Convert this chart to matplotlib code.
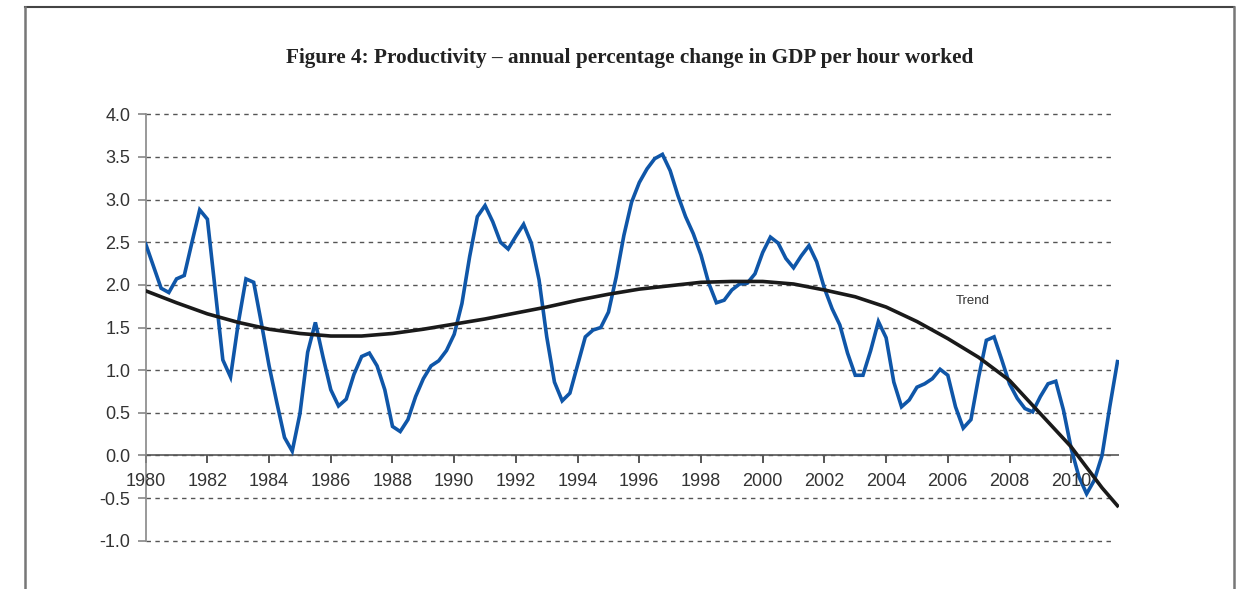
import matplotlib
matplotlib.use("Agg")
import matplotlib.pyplot as plt
from matplotlib.lines import Line2D

# Quarterly productivity growth, 1980Q1 .. 2011Q3
start_year = 1980
productivity = [
    2.48, 2.22, 1.96, 1.91, 2.07, 2.11, 2.50, 2.88, 2.77, 1.95,
    1.12, 0.92, 1.55, 2.07, 2.03, 1.55, 1.05, 0.62, 0.21, 0.05,
    0.49, 1.21, 1.56, 1.15, 0.77, 0.58, 0.66, 0.95, 1.16, 1.20,
    1.05, 0.77, 0.34, 0.28, 0.42, 0.69, 0.90, 1.05, 1.11, 1.23,
    1.42, 1.78, 2.33, 2.80, 2.93, 2.74, 2.50, 2.42, 2.57, 2.71,
    2.49, 2.06, 1.39, 0.86, 0.64, 0.73, 1.06, 1.39, 1.47, 1.50,
    1.68, 2.09, 2.58, 2.97, 3.20, 3.36, 3.48, 3.53, 3.34, 3.05,
    2.80, 2.60, 2.35, 2.02, 1.79, 1.82, 1.94, 2.01, 2.02, 2.13,
    2.38, 2.56, 2.49, 2.31, 2.20, 2.34, 2.46, 2.27, 1.96, 1.72,
    1.53, 1.20, 0.94, 0.94, 1.23, 1.57, 1.38, 0.86, 0.57, 0.65,
    0.80, 0.84, 0.90, 1.01, 0.94, 0.57, 0.32, 0.42, 0.92, 1.35,
    1.39, 1.12, 0.84, 0.67, 0.55, 0.51, 0.69, 0.84, 0.87, 0.53,
    0.08, -0.25, -0.45, -0.29, 0.00, 0.57, 1.10,
]
quarters = [start_year + i / 4 for i in range(len(productivity))]

# Trend line values
trend_years = [1980, 1981, 1982, 1983, 1984, 1985, 1986, 1987, 1988, 1989,
               1990, 1991, 1992, 1993, 1994, 1995, 1996, 1997, 1998, 1999,
               2000, 2001, 2002, 2003, 2004, 2005, 2006, 2007, 2008, 2009,
               2010, 2011, 2011.5]
trend_values = [1.93, 1.79, 1.66, 1.56, 1.48, 1.43, 1.40, 1.40, 1.43, 1.48,
                1.54, 1.60, 1.67, 1.74, 1.82, 1.89, 1.95, 1.99, 2.03, 2.04,
                2.04, 2.01, 1.94, 1.86, 1.74, 1.57, 1.37, 1.15, 0.88, 0.49,
                0.10, -0.38, -0.59]

x_ticks = list(range(1980, 2011, 2))
y_ticks = [-1.0, -0.5, 0.0, 0.5, 1.0, 1.5, 2.0, 2.5, 3.0, 3.5, 4.0]

title = "Figure 4: Productivity \u2013 annual percentage change in GDP per hour worked"

W, H = 1239, 589
fig = plt.figure(figsize=(W / 100, H / 100), dpi=100)
fig.patch.set_facecolor("white")

# plot area in pixels
x0, x1 = 145.7, 1119.3
y_top, y_bot = 114.3, 540.7
ax = fig.add_axes([x0 / W, 1 - y_bot / H, (x1 - x0) / W, (y_bot - y_top) / H])

xmin = 1980
xmax = 1980 + (x1 - x0) / 30.85
ax.set_xlim(xmin, xmax)
ax.set_ylim(-1.0, 4.0)

grid_end = (2011.35 - xmin) / (xmax - xmin)
for yv in y_ticks:
    ax.axhline(yv, xmin=0, xmax=grid_end, color="#555555", lw=1.0,
               dashes=(3.2, 3.2), zorder=1, clip_on=False)

ax.plot(quarters, productivity, color="#0f56a8", lw=2.6, zorder=3,
        solid_joinstyle="miter")
ax.plot(trend_years, trend_values, color="#1a1a1a", lw=2.6, zorder=4)

for s in ["top", "right", "bottom"]:
    ax.spines[s].set_visible(False)
ax.spines["left"].set_color("#888888")
ax.spines["left"].set_linewidth(1.2)

# x axis at zero
ax.axhline(0, color="#555555", lw=1.2, zorder=2)
ax.set_xticks([])
for xt in x_ticks:
    ax.plot([xt, xt], [0, 0], marker=3, markersize=6, color="#555555",
            mew=1.2, clip_on=False, zorder=2)
    ax.text(xt, -0.31, str(xt), ha="center", va="center", fontsize=13,
            family="Liberation Sans", color="#333333")

ax.set_yticks(y_ticks)
ax.set_yticklabels([f"{v:.1f}" for v in y_ticks], fontsize=13,
                   family="Liberation Sans", color="#333333")
ax.tick_params(axis="y", length=6, width=1.2, color="#888888", pad=5)

ax.text(2006.82, 1.81, "Trend", ha="center", va="center", fontsize=9.5,
        family="Liberation Sans", color="#333333")

fig.text(630 / W, 1 - 58 / H, title, ha="center", va="center",
         fontsize=15.3, family="Liberation Serif", weight="bold", color="#222222")

# frame around the figure (no bottom edge)
frame_color = "#777777"
fig.add_artist(Line2D([25 / W, 1234 / W], [1 - 6.5 / H, 1 - 6.5 / H],
                      transform=fig.transFigure, color="#444444", lw=1.5))
fig.add_artist(Line2D([25 / W, 25 / W], [0, 1 - 6.5 / H],
                      transform=fig.transFigure, color=frame_color, lw=1.8))
fig.add_artist(Line2D([1234 / W, 1234 / W], [0, 1 - 6.5 / H],
                      transform=fig.transFigure, color=frame_color, lw=1.8))

fig.savefig("out.png", dpi=100, facecolor="white")
